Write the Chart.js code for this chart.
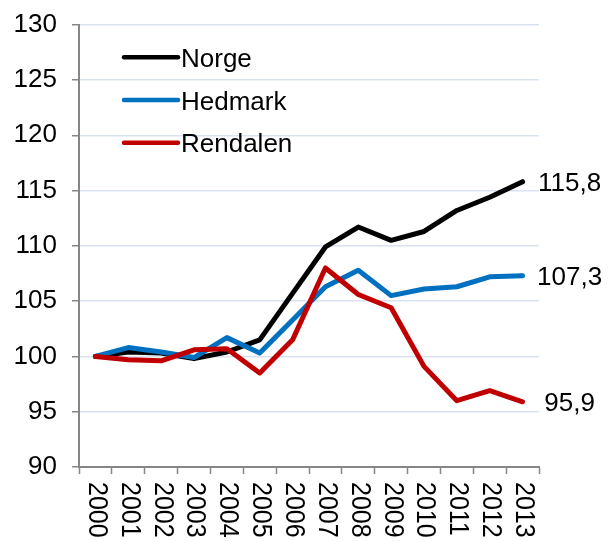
<!DOCTYPE html>
<html><head><meta charset="utf-8">
<script src="https://cdn.jsdelivr.net/npm/chart.js@4/dist/chart.umd.min.js"></script>
<style>html,body{margin:0;padding:0;background:#fff}#wrap{width:608px;height:541px;position:relative}</style>
</head><body><div id="wrap"><canvas id="c" width="608" height="541"></canvas></div>
<script>
const years = ['2000','2001','2002','2003','2004','2005','2006','2007','2008','2009','2010','2011','2012','2013'];
const seriesNames = ['Norge','Hedmark','Rendalen'];
const norge    = [100, 100.4, 100.3, 99.8, 100.4, 101.5, 105.7, 109.9, 111.7, 110.5, 111.3, 113.2, 114.4, 115.8];
const hedmark  = [100, 100.8, 100.4, 99.9, 101.7, 100.3, 103.3, 106.3, 107.8, 105.5, 106.1, 106.3, 107.2, 107.3];
const rendalen = [100, 99.7, 99.6, 100.6, 100.7, 98.5, 101.5, 108.0, 105.6, 104.4, 99.1, 96.0, 96.9, 95.9];
const endLabels = ['115,8','107,3','95,9'];
const colors = ['#000000','#0070C0','#C00000'];
const FONT = '"Liberation Sans", Arial, sans-serif';

const overlay = {
  id: 'overlay',
  afterDraw(chart) {
    const ctx = chart.ctx;
    const xs = chart.scales.x;
    ctx.save();
    ctx.fillStyle = '#000';
    // rotated x labels (clockwise)
    ctx.font = '25px ' + FONT;
    ctx.textAlign = 'left';
    ctx.textBaseline = 'middle';
    years.forEach((y, i) => {
      const x = xs.getPixelForValue(i);
      ctx.save();
      ctx.translate(x + 1, 482);
      ctx.scale(1.1, 1);
      ctx.rotate(Math.PI / 2);
      ctx.fillText(y, 0, 0);
      ctx.restore();
    });
    // legend inside plot
    ctx.font = '26px ' + FONT;
    ctx.textBaseline = 'alphabetic';
    seriesNames.forEach((n, i) => {
      const cy = 57.3 + i * 42.7;
      ctx.strokeStyle = colors[i];
      ctx.lineWidth = 4.5;
      ctx.lineCap = 'round';
      ctx.beginPath();
      ctx.moveTo(124, cy);
      ctx.lineTo(178, cy);
      ctx.stroke();
      ctx.fillStyle = '#000';
      ctx.fillText(n, 181, cy + 9.5);
    });
    // end labels
    ctx.font = '26px ' + FONT;
    ctx.textAlign = 'center';
    chart.data.datasets.forEach((ds, di) => {
      const meta = chart.getDatasetMeta(di);
      const pt = meta.data[meta.data.length - 1];
      ctx.fillText(endLabels[di], pt.x + 47, pt.y + 9);
    });
    ctx.restore();
  }
};

const series = [norge, hedmark, rendalen];
new Chart(document.getElementById('c'), {
  type: 'line',
  data: {
    labels: years,
    datasets: series.map((d, i) => ({
      label: seriesNames[i],
      data: d,
      borderColor: colors[i],
      backgroundColor: colors[i],
      borderWidth: 5,
      pointRadius: 0,
      tension: 0,
      borderJoinStyle: 'round',
      borderCapStyle: 'round',
      order: 3 - i
    }))
  },
  options: {
    responsive: false,
    animation: false,
    devicePixelRatio: 1,
    layout: { padding: { top: 24.7, right: 69, bottom: 0, left: 0 } },
    plugins: { legend: { display: false }, tooltip: { enabled: false } },
    scales: {
      x: {
        type: 'category',
        offset: true,
        grid: { offset: true, drawOnChartArea: false, drawTicks: true, tickLength: 7, tickColor: '#868686', tickWidth: 1.5 },
        border: { color: '#868686', width: 2 },
        ticks: { display: false },
        afterFit(s) { s.height = 74; s.paddingLeft = 0; s.paddingRight = 0; }
      },
      y: {
        min: 90, max: 130,
        ticks: { stepSize: 5, font: { family: FONT, size: 26 }, color: '#000', padding: 15 },
        grid: { color: '#D9E2F0', lineWidth: 1.5, tickLength: 7, tickColor: '#868686', tickWidth: 1.5 },
        border: { color: '#868686', width: 2 },
        afterFit(s) { s.width = 79; s.paddingTop = 0; s.paddingBottom = 0; }
      }
    }
  },
  plugins: [overlay]
});
</script>
</body></html>
